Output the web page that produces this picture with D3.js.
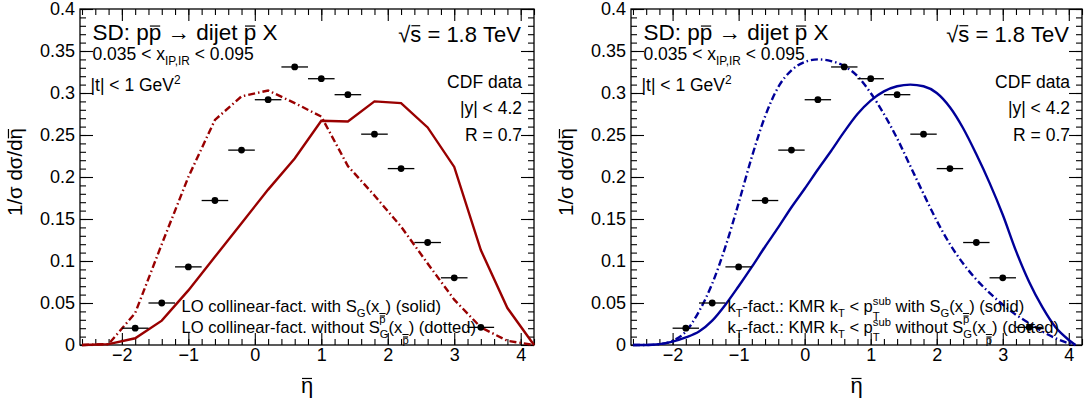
<!DOCTYPE html>
<html>
<head>
<meta charset="utf-8">
<script src="https://cdn.jsdelivr.net/npm/d3@7"></script>
<style>
  body { margin: 0; background: #fff; }
  svg text { font-family: "Liberation Sans", Arial, Helvetica, sans-serif; fill: #000; white-space: pre; }
  .tick text { font-size: 18px; }
</style>
</head>
<body>
<svg width="1090" height="409"></svg>
<script>
// CDF data: bin centres in eta-bar, 1/sigma dsigma/deta, half bin width
var etaBins   = [-1.8, -1.4, -1.0, -0.6, -0.2, 0.2, 0.6, 1.0, 1.4, 1.8, 2.2, 2.6, 3.0, 3.4];
var cdfValues = [0.020, 0.050, 0.093, 0.172, 0.232, 0.292, 0.331, 0.317, 0.298, 0.251, 0.210, 0.122, 0.080, 0.021];
var binHalf = 0.2;

// LO collinear factorisation (left pad)
var loEta     = [-2.6, -2.2, -1.8, -1.4, -1.0, -0.6, -0.2, 0.2, 0.6, 1.0, 1.4, 1.8, 2.2, 2.6, 3.0, 3.4, 3.8, 4.2];
var loWith    = [0, 0.001, 0.008, 0.029, 0.065, 0.105, 0.145, 0.185, 0.222, 0.267, 0.266, 0.290, 0.288, 0.259, 0.212, 0.113, 0.044, 0];
var loWithout = [0, 0.001, 0.038, 0.120, 0.200, 0.268, 0.296, 0.303, 0.288, 0.272, 0.213, 0.178, 0.141, 0.097, 0.054, 0.021, 0.005, 0];

// kT factorisation, KMR (right pad)
var ktEta     = [-2.6, -2.4, -2.2, -2.0, -1.8, -1.6, -1.4, -1.2, -1.0, -0.8, -0.6, -0.4, -0.2, 0.0, 0.2, 0.4, 0.6, 0.8,
                 1.0, 1.2, 1.4, 1.6, 1.8, 2.0, 2.2, 2.4, 2.6, 2.8, 3.0, 3.2, 3.4, 3.6, 3.8, 4.0, 4.1];
var ktWith    = [0, 0, 0.001, 0.004, 0.009, 0.016, 0.029, 0.048, 0.070, 0.093, 0.117, 0.140, 0.164, 0.186, 0.209, 0.231, 0.254, 0.275,
                 0.291, 0.302, 0.308, 0.310, 0.308, 0.300, 0.283, 0.258, 0.227, 0.193, 0.155, 0.112, 0.075, 0.045, 0.021, 0.006, 0];
var ktWithout = [0, 0, 0.001, 0.005, 0.016, 0.040, 0.073, 0.117, 0.169, 0.224, 0.272, 0.307, 0.327, 0.337, 0.340, 0.338, 0.332, 0.320,
                 0.300, 0.275, 0.246, 0.213, 0.180, 0.148, 0.120, 0.097, 0.078, 0.062, 0.048, 0.036, 0.026, 0.016, 0.008, 0.002, 0];

var xTicks = [-2, -1, 0, 1, 2, 3, 4];
var yTicks = [0, 0.05, 0.1, 0.15, 0.2, 0.25, 0.3, 0.35, 0.4];

var svg = d3.select("svg");
var yTop = 9, yBot = 345;

// little TLatex-like helper: pieces laid out one after the other
function richText(g, x, y, size, parts, anchor) {
  var grp = g.append("g");
  var cx = 0, lastX = 0;
  parts.forEach(function (p) {
    if (typeof p === "string") p = {t: p};
    var fs = size * (p.scale || 1);
    var px = p.stack ? lastX : cx;
    var dy = p.dy || 0;
    var t = grp.append("text").attr("x", px).attr("y", dy)
      .style("font-size", fs + "px").text(p.t.replace(/ /g, "\u00a0"));
    var w = t.node().getComputedTextLength();
    if (p.bar) {
      var by = dy - fs * p.bar;
      grp.append("line").attr("x1", px + fs * 0.05).attr("x2", px + w - fs * 0.05)
        .attr("y1", by).attr("y2", by).attr("stroke", "#000").attr("stroke-width", 1.2);
    }
    if (p.under != null) {
      grp.append("line").attr("x1", px).attr("x2", px + w)
        .attr("y1", p.under).attr("y2", p.under).attr("stroke", "#000").attr("stroke-width", 1);
    }
    lastX = px;
    cx = Math.max(cx, px + w);
  });
  var ox = anchor === "end" ? x - cx : anchor === "middle" ? x - cx / 2 : x;
  grp.attr("transform", "translate(" + ox + "," + y + ")");
  return grp;
}

var sub = function (s) { return {t: s, scale: 0.68, dy: 5}; };
var sup = function (s) { return {t: s, scale: 0.68, dy: -7}; };
var pbarWeird = {t: "p", scale: 0.68, dy: 11, bar: 0.62, under: 1.5};

function drawPad(x0, x1, color, etas, withVals, withoutVals, smooth, legend1, legend2, legX, legSize) {
  var g = svg.append("g");
  var x = d3.scaleLinear().domain([-2.63, 4.2]).range([x0, x1]);
  var y = d3.scaleLinear().domain([0, 0.4]).range([yBot, yTop]);

  var xMinor = d3.range(-13, 22).map(function (i) { return i / 5; });
  var yMinor = d3.range(0, 41).map(function (i) { return i / 100; });

  function clean(a) { a.select(".domain").remove(); a.attr("font-size", null).attr("font-family", null); }

  // minor ticks, four sides
  g.append("g").attr("transform", "translate(0," + yBot + ")")
    .call(d3.axisBottom(x).tickValues(xMinor).tickSize(-6).tickFormat("")).call(clean);
  g.append("g").attr("transform", "translate(0," + yTop + ")")
    .call(d3.axisTop(x).tickValues(xMinor).tickSize(-6).tickFormat("")).call(clean);
  g.append("g").attr("transform", "translate(" + x0 + ",0)")
    .call(d3.axisLeft(y).tickValues(yMinor).tickSize(-6).tickFormat("")).call(clean);
  g.append("g").attr("transform", "translate(" + x1 + ",0)")
    .call(d3.axisRight(y).tickValues(yMinor).tickSize(-6).tickFormat("")).call(clean);

  // major ticks
  g.append("g").attr("transform", "translate(0," + yBot + ")")
    .call(d3.axisBottom(x).tickValues(xTicks).tickSize(-12).tickPadding(3.5).tickFormat(d3.format("d"))).call(clean);
  g.append("g").attr("transform", "translate(0," + yTop + ")")
    .call(d3.axisTop(x).tickValues(xTicks).tickSize(-12).tickFormat("")).call(clean);
  g.append("g").attr("transform", "translate(" + x0 + ",0)")
    .call(d3.axisLeft(y).tickValues(yTicks).tickSize(-13).tickPadding(5)
      .tickFormat(function (d) { return String(+d.toFixed(2)); })).call(clean);
  g.append("g").attr("transform", "translate(" + x1 + ",0)")
    .call(d3.axisRight(y).tickValues(yTicks).tickSize(-13).tickFormat("")).call(clean);

  g.selectAll(".tick line").attr("stroke", "#000").attr("stroke-width", 1.1);

  g.append("rect").attr("x", x0).attr("y", yTop).attr("width", x1 - x0).attr("height", yBot - yTop)
    .attr("fill", "none").attr("stroke", "#000").attr("stroke-width", 1.3);

  // theory curves
  var line = d3.line()
    .x(function (d, i) { return x(etas[i]); })
    .y(function (d) { return y(d); })
    .curve(smooth ? d3.curveMonotoneX : d3.curveLinear);

  g.append("path").attr("d", line(withoutVals)).attr("fill", "none")
    .attr("stroke", color).attr("stroke-width", 2.4).attr("stroke-dasharray", "7,3,1.5,3");
  g.append("path").attr("d", line(withVals)).attr("fill", "none")
    .attr("stroke", color).attr("stroke-width", 2.4);

  // data points
  var pts = g.append("g");
  pts.selectAll("line").data(etaBins).enter().append("line")
    .attr("x1", function (d) { return x(d - binHalf); })
    .attr("x2", function (d) { return x(d + binHalf); })
    .attr("y1", function (d, i) { return y(cdfValues[i]); })
    .attr("y2", function (d, i) { return y(cdfValues[i]); })
    .attr("stroke", "#000").attr("stroke-width", 1.3);
  pts.selectAll("circle").data(etaBins).enter().append("circle")
    .attr("cx", function (d) { return x(d); })
    .attr("cy", function (d, i) { return y(cdfValues[i]); })
    .attr("r", 3.4).attr("fill", "#000");

  // labels inside the frame
  richText(g, x0 + 12.5, 40, 22.5, ["SD: p", {t: "p", bar: 0.62}, " \u2192 dijet ", {t: "p", bar: 0.62}, " X"]);
  richText(g, x0 + 12.5, 60, 17.5, ["0.035 < x", sub("IP,IR"), " < 0.095"]);
  richText(g, x0 + 10.5, 91, 17.5, ["|t| < 1 GeV", sup("2")]);
  richText(g, x1 - 13, 42, 22, ["\u221a", {t: "s", bar: 0.74}, " = 1.8 TeV"], "end");
  richText(g, x1 - 12, 87.5, 17.5, ["CDF data"], "end");
  richText(g, x1 - 12, 114, 17.5, ["|y| < 4.2"], "end");
  richText(g, x1 - 12, 141, 17.5, ["R = 0.7"], "end");

  richText(g, x0 + legX, 312, legSize, legend1);
  richText(g, x0 + legX, 333, legSize, legend2);

  // axis titles
  richText(g, (x0 + x1) / 2, 393, 22, [{t: "\u03b7", bar: 0.66}], "middle");
  var yt = g.append("g").attr("transform", "translate(" + (x0 - 58) + ",172) rotate(-90)");
  richText(yt, 0, 0, 20.5, ["1/\u03c3 d\u03c3/d", {t: "\u03b7", bar: 0.66}], "middle");
}

var loLegend1 = ["LO collinear-fact. with S", sub("G"), "(x", pbarWeird, ")", " (solid)"];
var loLegend2 = ["LO collinear-fact. without S", sub("G"), "(x", pbarWeird, ")", " (dotted)"];
var ktLegend1 = ["k", sub("T"), "-fact.: KMR k", sub("T"), " < p", sup("sub"), {t: "T", scale: 0.68, dy: 8, stack: true},
                 " with S", sub("G"), "(x", pbarWeird, ")", " (solid)"];
var ktLegend2 = ["k", sub("T"), "-fact.: KMR k", sub("T"), " < p", sup("sub"), {t: "T", scale: 0.68, dy: 8, stack: true},
                 " without S", sub("G"), "(x", pbarWeird, ")", " (dotted)"];

drawPad(80, 534, "#990000", loEta, loWith, loWithout, false, loLegend1, loLegend2, 101.5, 16.6);
drawPad(631, 1082, "#000099", ktEta, ktWith, ktWithout, true, ktLegend1, ktLegend2, 96.5, 16.5);
</script>
</body>
</html>
